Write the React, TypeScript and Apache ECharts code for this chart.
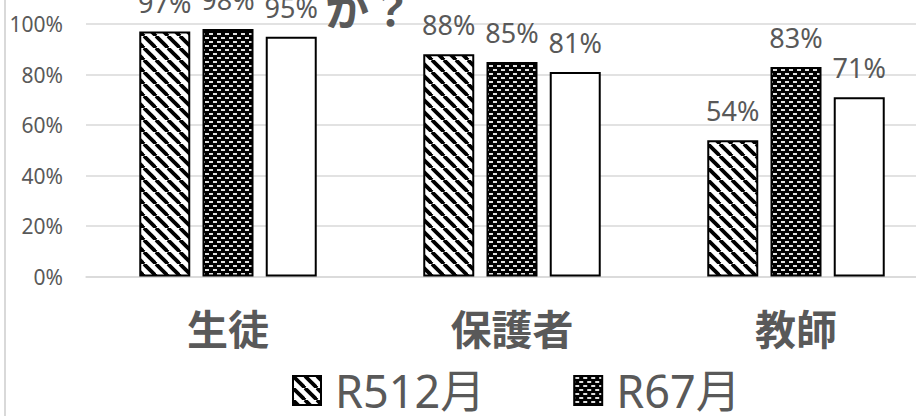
import React, { useEffect, useRef } from "react";
import * as echarts from "echarts";

const categories = ["生徒", "保護者", "教師"];
const seriesNames = ["R512月", "R67月", "R612月"];
const r5Dec = [97, 88, 54];
const r6Jul = [98, 85, 83];
const r6Dec = [95, 81, 71];
const yMin = 0;
const yMax = 100;
const yStep = 20;
const titleTail = "か？";

function makeStripe(): HTMLCanvasElement {
  const s = 12;
  const c = document.createElement("canvas");
  c.width = s;
  c.height = s;
  const ctx = c.getContext("2d")!;
  ctx.fillStyle = "#fff";
  ctx.fillRect(0, 0, s, s);
  ctx.strokeStyle = "#000";
  ctx.lineWidth = 3.8;
  for (const x0 of [-s, 0, s]) {
    ctx.beginPath();
    ctx.moveTo(x0, 0);
    ctx.lineTo(x0 + s, s);
    ctx.stroke();
  }
  return c;
}

function makeDots(): HTMLCanvasElement {
  const w = 8;
  const h = 8;
  const c = document.createElement("canvas");
  c.width = w;
  c.height = h;
  const ctx = c.getContext("2d")!;
  ctx.fillStyle = "#000";
  ctx.fillRect(0, 0, w, h);
  ctx.fillStyle = "#e0e0e0";
  ctx.fillRect(1, 1, 4, 2);
  ctx.fillRect(5, 5, 3, 2);
  ctx.fillRect(0, 5, 1, 2);
  return c;
}

export default function App() {
  const ref = useRef<HTMLDivElement>(null);
  useEffect(() => {
    if (!ref.current) return;
    const chart = echarts.init(ref.current, null, { renderer: "svg" });
    const stripe = makeStripe();
    const dots = makeDots();
    const stripePattern: any = { image: stripe, repeat: "repeat", imageWidth: stripe.width, imageHeight: stripe.height };
    const dotPattern: any = { image: dots, repeat: "repeat", imageWidth: dots.width, imageHeight: dots.height };
    const fills = [stripePattern, dotPattern, "#ffffff"];
    const dataSets = [r5Dec, r6Jul, r6Dec];
    const latin = '"Noto Sans", "Noto Sans CJK JP", sans-serif';
    const cjk = '"Noto Sans CJK JP", "Noto Sans", sans-serif';
    chart.setOption({
      animation: false,
      backgroundColor: "#ffffff",
      grid: { left: 86, top: 24, width: 852, bottom: 139.5, containLabel: false },
      legend: {
        data: [seriesNames[0], seriesNames[1]],
        left: 292,
        top: 368,
        padding: 0,
        icon: "rect",
        itemWidth: 28,
        itemHeight: 29,
        itemGap: 88,
        textStyle: { fontSize: 45, color: "#595959", fontFamily: latin, padding: [0, 0, 0, 9] },
        itemStyle: { borderColor: "#000", borderWidth: 2 },
      },
      xAxis: {
        type: "category",
        data: categories,
        axisLine: { show: true, lineStyle: { color: "#d9d9d9", width: 1.5 } },
        axisTick: { show: false },
        axisLabel: { fontSize: 41, fontWeight: "bold", color: "#595959", fontFamily: cjk, margin: 30 },
      },
      yAxis: {
        type: "value",
        min: yMin,
        max: yMax,
        interval: yStep,
        axisLine: { show: false },
        axisTick: { show: false },
        splitLine: { lineStyle: { color: "#d9d9d9", width: 1.5 } },
        axisLabel: { formatter: "{value}%", fontSize: 21, color: "#595959", fontFamily: latin, margin: 23 },
      },
      series: dataSets.map((d, i) => ({
        name: seriesNames[i],
        type: "bar",
        data: d,
        barWidth: 51,
        barGap: "24%",
        itemStyle: { color: fills[i], borderColor: "#000", borderWidth: 2 },
        label: {
          show: true,
          position: "top",
          distance: 16,
          formatter: "{c}%",
          fontSize: 27,
          color: "#595959",
          fontFamily: latin,
        },
      })),
      graphic: [
        {
          type: "line",
          shape: { x1: 5, y1: 0, x2: 5, y2: 416 },
          style: { stroke: "#d9d9d9", lineWidth: 2 },
          silent: true,
        },
        {
          type: "text",
          x: 325,
          y: 29,
          style: {
            text: titleTail,
            fontSize: 44,
            fontWeight: "bold",
            fill: "#595959",
            fontFamily: cjk,
            textVerticalAlign: "bottom",
          },
          z: 10,
        },
      ],
    });
    return () => chart.dispose();
  }, []);
  return (
    <div style={{ position: "fixed", left: 0, top: 0, width: 916, height: 416, overflow: "hidden" }}>
      <div ref={ref} style={{ width: 960, height: 416 }} />
    </div>
  );
}
